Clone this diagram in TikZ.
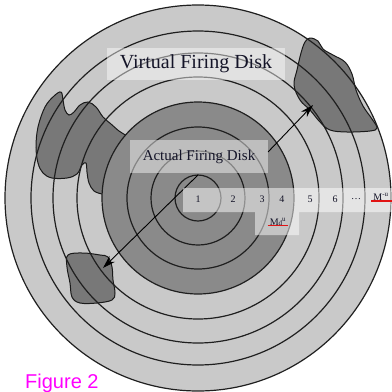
\documentclass[tikz,border=0pt]{standalone}
\usepackage{fontspec}
\setmainfont{Liberation Serif}
\newfontfamily\capfont{Liberation Sans}
\usetikzlibrary{arrows.meta}
\definecolor{ringgray}{gray}{0.79}
\definecolor{diskgray}{gray}{0.54}
\definecolor{blobgray}{gray}{0.47}
\definecolor{inkline}{gray}{0.12}
\definecolor{labelink}{RGB}{20,20,40}
\definecolor{capmagenta}{RGB}{255,0,255}
\definecolor{markred}{RGB}{225,20,20}
\tikzset{
  ringline/.style={draw=inkline, line width=1.2pt},
  blobline/.style={draw=inkline!85!black, line width=1pt},
  blobfill/.style={fill=blobgray},
  veil/.style={fill=white, fill opacity=0.45, text opacity=1, inner sep=0pt},
  numlabel/.style={font=\fontsize{10}{12}\selectfont, text=labelink, inner sep=1pt},
  ptr/.style={draw=black, line width=0.9pt, -{Stealth[length=13pt,width=8pt]}},
  redmark/.style={draw=markred, line width=1.3pt}
}
\begin{document}
\begin{tikzpicture}[x=1pt,y=-1pt]
\useasboundingbox (0,0) rectangle (392,392);
\coordinate (c) at (198,198);

% virtual disk and actual disk
\fill[ringgray] (c) circle[radius=193];
\fill[diskgray] (c) circle[radius=96];

% fire patches
\fill[blobfill] plot[smooth cycle, tension=0.6] coordinates {
  (310,38) (318,41) (323,49) (333,55) (345,62) (352,74) (356,90) (363,106)
  (372,119) (377,128) (370,131) (347,132) (330,130) (320,122) (310,110)
  (300,100) (294,85) (297,70) (301,53) (305,42)};
\draw[blobline] plot[smooth cycle, tension=0.6] coordinates {
  (310,38) (318,41) (323,49) (333,55) (345,62) (352,74) (356,90) (363,106)
  (372,119) (377,128) (370,131) (347,132) (330,130) (320,122) (310,110)
  (300,100) (294,85) (297,70) (301,53) (305,42)};

\fill[blobfill] plot[smooth, tension=0.6] coordinates {
  (102,194) (94,191) (89,183) (87,172) (86,163) (82,165) (77,174) (67,178)
  (52,178) (43,173) (38,163) (36,147) (38,127) (45,107) (54,96) (61,92)
  (63,100) (65,110) (69,115) (74,112) (80,105) (88,102) (96,107) (103,117)
  (111,124) (119,131) (125.5,135)}
  arc[start angle=221, end angle=182.4, radius=96] -- cycle;
\draw[blobline] plot[smooth, tension=0.6] coordinates {
  (102,194) (94,191) (89,183) (87,172) (86,163) (82,165) (77,174) (67,178)
  (52,178) (43,173) (38,163) (36,147) (38,127) (45,107) (54,96) (61,92)
  (63,100) (65,110) (69,115) (74,112) (80,105) (88,102) (96,107) (103,117)
  (111,124) (119,131) (125.5,135)};

\fill[blobfill] plot[smooth cycle, tension=0.6] coordinates {
  (68,255) (83,253) (100,255) (108,257) (112,267) (113,280) (115,293)
  (112,300) (97,303) (80,303) (72,297) (70,283) (67,267)};
\draw[blobline] plot[smooth cycle, tension=0.6] coordinates {
  (68,255) (83,253) (100,255) (108,257) (112,267) (113,280) (115,293)
  (112,300) (97,303) (80,303) (72,297) (70,283) (67,267)};

% concentric rings
\foreach \r in {23,47,71,96,121,145,167,193}
  \draw[ringline] (c) circle[radius=\r];

% radius pointers
\coordinate (p1) at (198,175);
\coordinate (p2) at (103,268);
\coordinate (q1) at (268,152);
\coordinate (q2) at (313,105);
\draw[ptr] (p1) -- (p2);
\draw[ptr] (q1) -- (q2);

% labels
\node[veil, minimum width=178pt, minimum height=32pt,
      font=\fontsize{20}{22}\selectfont, text=labelink] (vlabel) at (196,64) {Virtual Firing Disk};
\node[veil, minimum width=138pt, minimum height=33pt,
      font=\fontsize{15}{17}\selectfont, text=labelink] (alabel) at (199,156.5) {Actual Firing Disk};

% ring index strip
\fill[white, opacity=0.5] (183,188) -- (392,188) -- (392,212) -- (299,212)
  -- (299,235) -- (255,235) -- (255,212) -- (183,212) -- cycle;
\node[numlabel] (n1) at (198,199) {1};
\node[numlabel] (n2) at (233,199) {2};
\node[numlabel] (n3) at (262,199) {3};
\node[numlabel] (n4) at (282,199) {4};
\node[numlabel] (n5) at (310,199) {5};
\node[numlabel] (n6) at (335,199) {6};
\node[numlabel] (ndots) at (356,199) {\dots};
\node[numlabel] (nmax) at (381,197) {M\textsuperscript{-u}};
\node[numlabel] (nd) at (278,222) {M{\fontsize{7}{8}\selectfont d}\textsuperscript{u}};
\draw[redmark] ([xshift=-1pt,yshift=0.5pt]nmax.south west) -- ([xshift=2pt,yshift=0.5pt]nmax.south east);
\draw[redmark] ([xshift=-1pt,yshift=1pt]nd.south west) -- ([xshift=1pt,yshift=1pt]nd.south east);

% caption
\node[anchor=base west, inner sep=0pt, text=capmagenta,
      font=\capfont\fontsize{20}{22}\selectfont] (cap) at (25,388) {Figure 2};
\end{tikzpicture}
\end{document}
